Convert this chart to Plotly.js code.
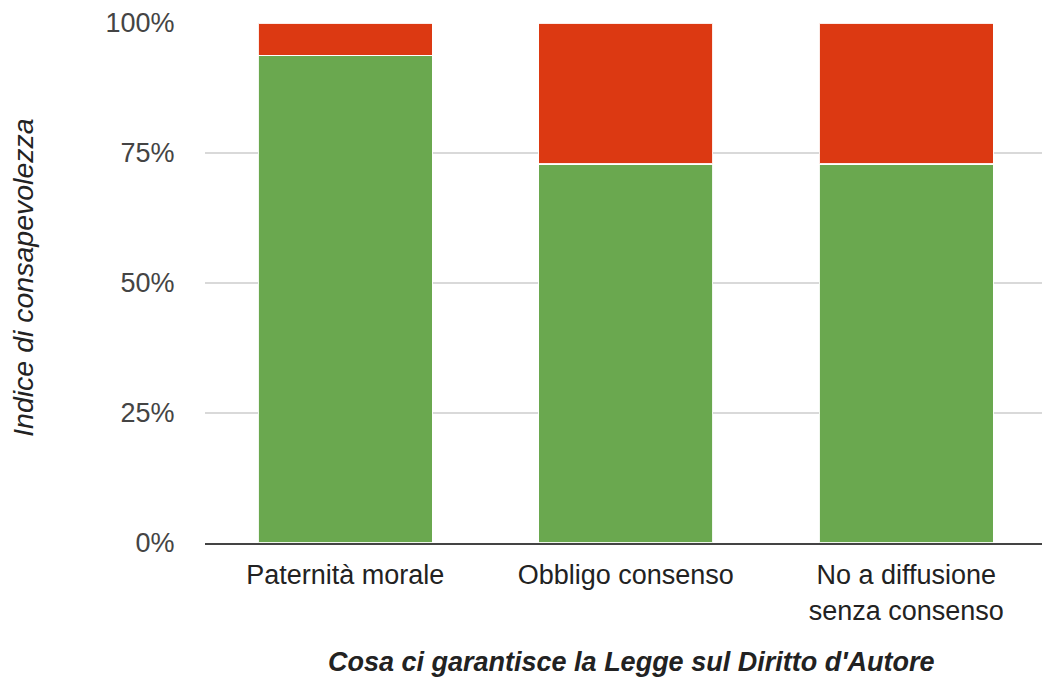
<!DOCTYPE html>
<html>
<head>
<meta charset="utf-8">
<script src="https://cdn.plot.ly/plotly-3.0.1.min.js"></script>
<style>
  html, body { margin: 0; padding: 0; background: #fff; }
  #chart { width: 1042px; height: 679px; }
</style>
</head>
<body>
<div id="chart"></div>
<script>
// Categories (tick labels) and the two stacked shares, in percent
const categories = ["Paternità morale", "Obbligo consenso", "No a diffusione<br>senza consenso"];
const consapevoli = [93.8, 72.9, 72.9];
const nonConsapevoli = [6.2, 27.1, 27.1];
const yTickValues = [0, 25, 50, 75, 100];
const yTickLabels = ["0%", "25%", "50%", "75%", "100%"];

const FONT = "Liberation Sans, Arial, Helvetica, sans-serif";

const barLine = { color: "rgba(255,255,255,0.9)", width: 1.2 };

const traces = [
  {
    type: "bar",
    x: [0, 1, 2],
    y: consapevoli,
    marker: { color: "#6aa84f", line: barLine },
    width: 0.62,
    hoverinfo: "skip"
  },
  {
    type: "bar",
    x: [0, 1, 2],
    y: nonConsapevoli,
    marker: { color: "#dc3912", line: barLine },
    width: 0.62,
    hoverinfo: "skip"
  }
];

const layout = {
  width: 1042,
  height: 679,
  barmode: "stack",
  showlegend: false,
  paper_bgcolor: "#ffffff",
  plot_bgcolor: "#ffffff",
  margin: { l: 205, r: 0, t: 23, b: 136 },
  font: { family: FONT, size: 27, color: "#444" },
  xaxis: {
    range: [-0.5, 2.484],
    tickmode: "array",
    tickvals: [0, 1, 2],
    ticktext: categories,
    ticks: "outside",
    ticklen: 7,
    tickcolor: "rgba(0,0,0,0)",
    showgrid: false,
    zeroline: false,
    showline: true,
    linecolor: "#444",
    linewidth: 2,
    tickfont: { family: FONT, size: 27, color: "#222" },
    fixedrange: true
  },
  yaxis: {
    range: [0, 100],
    tickmode: "array",
    tickvals: yTickValues,
    ticktext: yTickLabels,
    ticks: "outside",
    ticklen: 24,
    tickcolor: "rgba(0,0,0,0)",
    showgrid: true,
    gridcolor: "#d9d9d9",
    gridwidth: 2,
    zeroline: false,
    showline: false,
    tickfont: { family: FONT, size: 27, color: "#444" },
    fixedrange: true
  },
  annotations: [
    {
      text: "<b><i>Cosa ci garantisce la Legge sul Diritto d'Autore</i></b>",
      xref: "paper", yref: "paper",
      x: 0.509, y: -0.229,
      xanchor: "center", yanchor: "middle",
      showarrow: false,
      font: { family: FONT, size: 27, color: "#222" }
    },
    {
      text: "<i>Indice di consapevolezza</i>",
      xref: "paper", yref: "paper",
      x: -0.2174, y: 0.51,
      xanchor: "center", yanchor: "middle",
      textangle: -90,
      showarrow: false,
      font: { family: FONT, size: 28.5, color: "#222" }
    }
  ]
};

Plotly.newPlot("chart", traces, layout, { displayModeBar: false, staticPlot: true });
</script>
</body>
</html>
